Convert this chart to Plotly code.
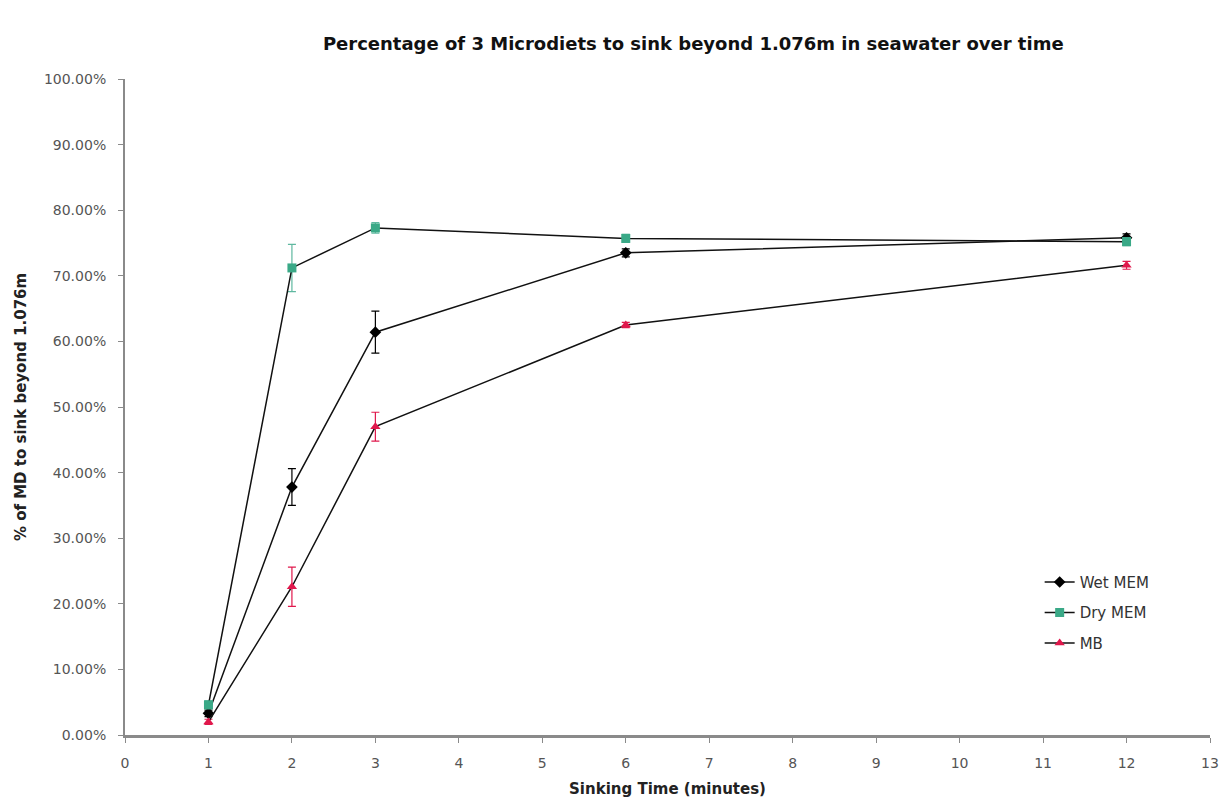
import plotly.graph_objects as go

times = [1, 2, 3, 6, 12]
wet_mem = [0.033, 0.378, 0.614, 0.735, 0.758]
wet_err = [0.005, 0.028, 0.032, 0.006, 0.006]
dry_mem = [0.046, 0.712, 0.773, 0.757, 0.752]
dry_err = [0.006, 0.036, 0.008, 0.006, 0.006]
mb = [0.02, 0.226, 0.47, 0.625, 0.716]
mb_err = [0.004, 0.03, 0.022, 0.004, 0.006]

names = ["Wet MEM", "Dry MEM", "MB"]
marker_colors = ["#000000", "#3aa987", "#e0184c"]
err_colors = ["#000000", "#5fb8a0", "#e0184c"]
symbols = ["diamond", "square", "triangle-up"]

fig = go.Figure()
for name, ys, es, mc, ec, sym in zip(names, [wet_mem, dry_mem, mb], [wet_err, dry_err, mb_err],
                                     marker_colors, err_colors, symbols):
    fig.add_trace(go.Scatter(
        x=times, y=ys, name=name, mode="lines+markers", legendgroup=name,
        line=dict(color="#111111", width=1.5),
        marker=dict(symbol=sym, size=9, color=mc),
        error_y=dict(type="data", array=es, visible=True, color=ec, thickness=1.2, width=4),
    ))

fig.update_layout(
    width=1227, height=803,
    margin=dict(l=125, r=17, t=79, b=68),
    paper_bgcolor="white", plot_bgcolor="white",
    font=dict(family="DejaVu Sans, sans-serif", color="#333333"),
    title=dict(text="<b>Percentage of 3 Microdiets to sink beyond 1.076m in seawater over time</b>",
               x=0.565, xanchor="center", y=0.946, yanchor="middle",
               font=dict(size=18, color="#111111")),
    xaxis=dict(range=[0, 13], dtick=1, tick0=0, showgrid=False, zeroline=False, automargin=False,
               showline=True, linecolor="#8a8a8a", linewidth=3,
               ticks="outside", ticklen=5, tickcolor="#8a8a8a", ticklabelstandoff=8,
               tickfont=dict(size=14, color="#555555"),
               title=dict(text="<b>Sinking Time (minutes)</b>", font=dict(size=15, color="#222222"), standoff=14)),
    yaxis=dict(range=[0, 1], dtick=0.1, tickformat=".2%", showgrid=False, zeroline=False, automargin=False,
               showline=True, linecolor="#8a8a8a", linewidth=2,
               ticks="outside", ticklen=5, tickcolor="#8a8a8a", ticklabelstandoff=9,
               tickfont=dict(size=14, color="#555555"),
               title=dict(text="<b>% of MD to sink beyond 1.076m</b>", font=dict(size=15, color="#222222"), standoff=14)),
    legend=dict(x=0.843, y=0.258, xanchor="left", yanchor="top",
                font=dict(size=15, color="#333333"), bgcolor="rgba(0,0,0,0)",
                itemwidth=30, tracegroupgap=8),
    showlegend=True,
)

fig.write_html("out.html")
